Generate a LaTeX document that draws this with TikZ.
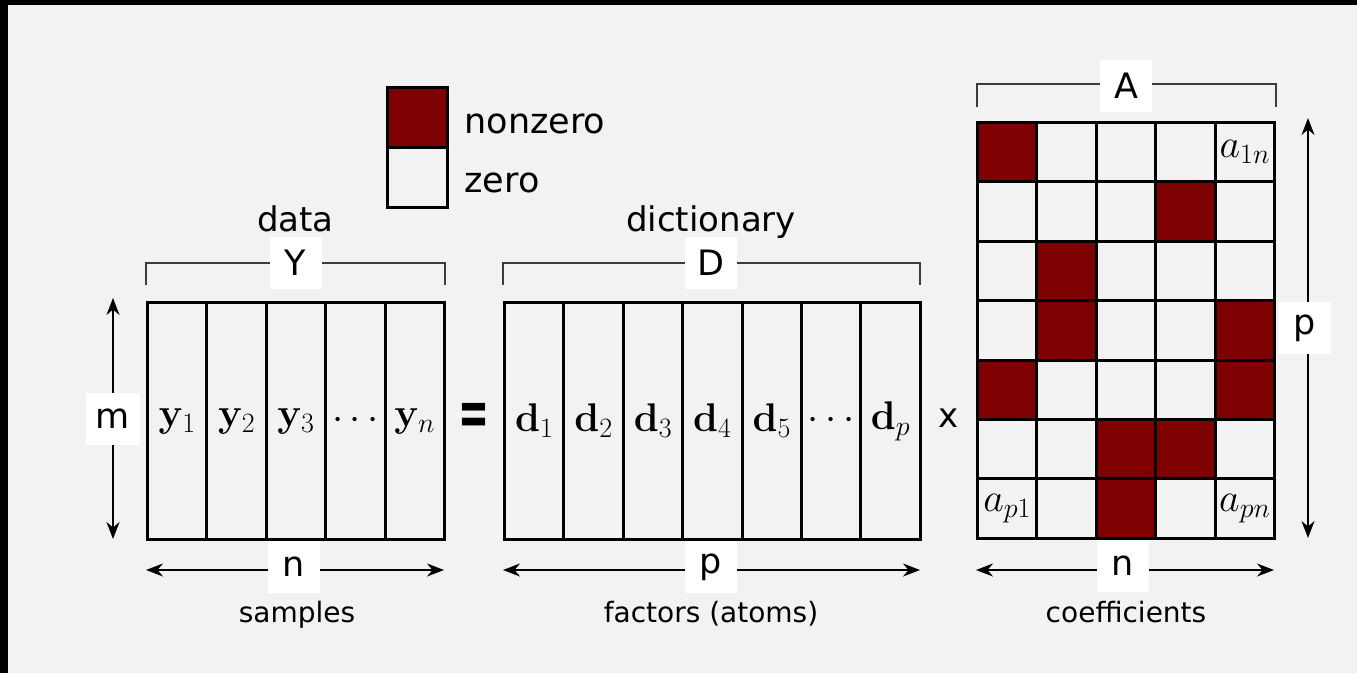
\RequirePackage{fix-cm}
\documentclass[tikz,border=0pt]{standalone}
\usepackage[no-math]{fontspec}
\setmainfont{DejaVu Sans}
\usetikzlibrary{arrows.meta}
\definecolor{bg}{HTML}{F2F2F2}
\definecolor{nz}{HTML}{7F0000}
\definecolor{brk}{HTML}{3C3C3C}
\newcommand{\myfs}[1]{\fontsize{#1}{#1}\selectfont}
\begin{document}
\begin{tikzpicture}[x=1pt,y=-1pt,
  colbox/.style={draw=black,line width=3pt,minimum width=59.4pt,minimum height=237pt,inner sep=0pt,anchor=north west,font=\myfs{40}},
  cellbox/.style={draw=black,line width=3pt,minimum width=59.4pt,minimum height=59.4pt,inner sep=0pt,anchor=north west,font=\myfs{40}},
  nzcell/.style={cellbox,fill=nz},
  tag/.style={fill=white,minimum width=52pt,minimum height=52pt,inner sep=0pt,font=\myfs{35}},
  caption/.style={anchor=base,font=\myfs{34}},
  subcap/.style={anchor=base,font=\myfs{28}},
  brace/.style={draw=brk,line width=2pt},
  dim/.style={draw=black,line width=1.8pt,{Stealth[length=17pt,width=13pt]}-{Stealth[length=17pt,width=13pt]}},
]
\useasboundingbox (0,0) rectangle (1357,673);
\fill[bg] (0,0) rectangle (1357,673);
\fill[black] (0,0) rectangle (1357,5);
\fill[black] (0,0) rectangle (8,673);

% legend
\node[nzcell,minimum width=60pt,minimum height=60pt] (legnz) at (386,86) {};
\node[cellbox,minimum width=60pt,minimum height=60pt] (legz) at (386,146) {};
\node[anchor=base west,font=\myfs{35}] (legnzt) at (461,133) {nonzero};
\node[anchor=base west,font=\myfs{35}] (legzt) at (461,192) {zero};

% Y matrix
\node[colbox] (y1) at (146,301) {$\mathbf{y}_1$};
\node[colbox] (y2) at (205.4,301) {$\mathbf{y}_2$};
\node[colbox] (y3) at (264.8,301) {$\mathbf{y}_3$};
\node[colbox] (y4) at (324.2,301) {$\cdots$};
\node[colbox] (y5) at (383.6,301) {$\mathbf{y}_n$};

% D matrix
\node[colbox] (d1) at (503,301) {$\mathbf{d}_1$};
\node[colbox] (d2) at (562.4,301) {$\mathbf{d}_2$};
\node[colbox] (d3) at (621.8,301) {$\mathbf{d}_3$};
\node[colbox] (d4) at (681.2,301) {$\mathbf{d}_4$};
\node[colbox] (d5) at (740.6,301) {$\mathbf{d}_5$};
\node[colbox] (d6) at (800,301) {$\cdots$};
\node[colbox] (d7) at (859.4,301) {$\mathbf{d}_p$};

% A matrix
\foreach \r in {1,...,7}{
  \foreach \c in {1,...,5}{
    \node[cellbox] (a-\r-\c) at ({976+59.4*(\c-1)},{121+59.4*(\r-1)}) {};
  }
}
\foreach \r/\c in {1/1,2/4,3/2,4/2,4/5,5/1,5/5,6/3,6/4,7/3}{
  \node[nzcell] (n-\r-\c) at ({976+59.4*(\c-1)},{121+59.4*(\r-1)}) {};
}
\node[font=\myfs{40}] (a1n) at (a-1-5.center) {$a_{1n}$};
\node[font=\myfs{40}] (ap1) at (a-7-1.center) {$a_{p1}$};
\node[font=\myfs{40}] (apn) at (a-7-5.center) {$a_{pn}$};

% operators
\node[font=\bfseries\myfs{37}] (eq) at (473.5,419.5) {\scalebox{1}[1.8]{=}};
\node[font=\myfs{34}] (times) at (949,418) {x};

% captions
\node[caption] (data) at (295.5,231) {data};
\node[caption] (dict) at (711,231) {dictionary};
\node[subcap] (samp) at (297,622) {samples};
\node[subcap] (fact) at (711,622) {factors (atoms)};
\node[subcap] (coef) at (1126,622) {coefficients};

% brackets
\coordinate (Yb1) at (146,285); \coordinate (Yb2) at (445,285);
\draw[brace] (Yb1) -- ++(0,-22) -| (Yb2);
\node[tag] (Ylab) at (295.5,263) {Y};
\coordinate (Db1) at (503,285); \coordinate (Db2) at (920,285);
\draw[brace] (Db1) -- ++(0,-22) -| (Db2);
\node[tag] (Dlab) at (711,263) {D};
\coordinate (Ab1) at (977,107); \coordinate (Ab2) at (1276,107);
\draw[brace] (Ab1) -- ++(0,-23) -| (Ab2);
\node[tag] (Alab) at (1126,86) {A};

% dimension arrows
\coordinate (mt) at (113,298); \coordinate (mb) at (113,539);
\draw[dim] (mt) -- (mb);
\node[tag,minimum width=54pt] (mlab) at (113,419) {m};
\coordinate (nl) at (146,570); \coordinate (nr) at (444,570);
\draw[dim] (nl) -- (nr);
\node[tag] (nlab) at (294,567) {n};
\coordinate (pl) at (503,570); \coordinate (pr) at (920,570);
\draw[dim] (pl) -- (pr);
\node[tag] (plab) at (711,567) {p};
\coordinate (nal) at (976,570); \coordinate (nar) at (1274,570);
\draw[dim] (nal) -- (nar);
\node[tag] (nalab) at (1123,566) {n};
\coordinate (pat) at (1308,118); \coordinate (pab) at (1308,538);
\draw[dim] (pat) -- (pab);
\node[tag] (palab) at (1305,328) {p};
\end{tikzpicture}
\end{document}
